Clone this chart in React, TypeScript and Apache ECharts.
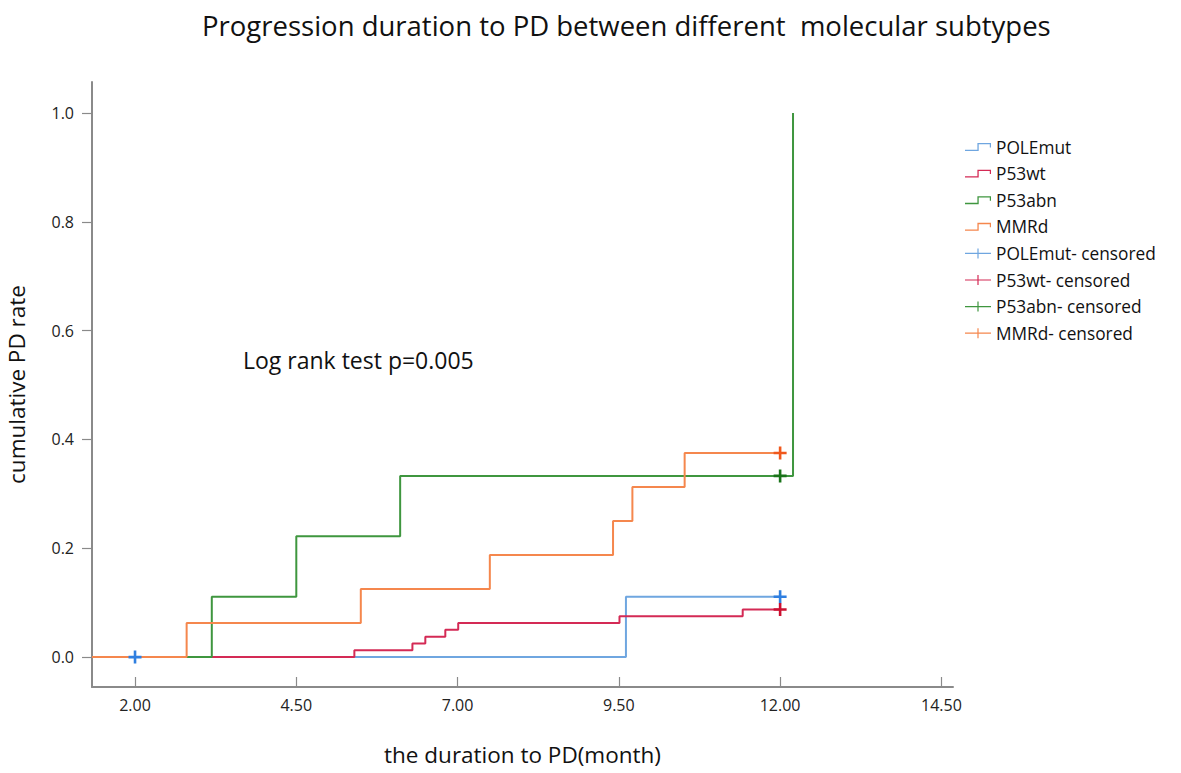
import React, { useEffect, useRef } from "react";
import * as echarts from "echarts";

const X_MIN = 1.333;
const X_MAX = 14.68;
const Y_MIN = -0.055;
const Y_MAX = 1.057;
const xTicks = [2.0, 4.5, 7.0, 9.5, 12.0, 14.5];
const yTicks = [0.0, 0.2, 0.4, 0.6, 0.8, 1.0];

const groups = ["POLEmut", "P53wt", "P53abn", "MMRd"];
const lineColors = ["#6fa6e0", "#d42a55", "#3f963f", "#f5874d"];
const censorColors = ["#2f7fe0", "#cc1030", "#1a741a", "#f0581c"];

// [time, cumulative PD rate] – step points
const polemutSteps = [
  [X_MIN, 0],
  [9.61, 0.111],
  [12.0, 0.111],
];
const p53wtSteps = [
  [X_MIN, 0],
  [5.4, 0.0125],
  [6.3, 0.025],
  [6.5, 0.0375],
  [6.81, 0.05],
  [7.01, 0.0625],
  [9.51, 0.075],
  [11.42, 0.0875],
  [12.0, 0.0875],
];
const p53abnSteps = [
  [X_MIN, 0],
  [3.19, 0.111],
  [4.5, 0.222],
  [6.11, 0.333],
  [12.2, 1.0],
];
const mmrdSteps = [
  [X_MIN, 0],
  [2.8, 0.0625],
  [5.5, 0.125],
  [7.5, 0.1875],
  [9.41, 0.25],
  [9.71, 0.3125],
  [10.52, 0.375],
  [12.0, 0.375],
];

const polemutCensored = [
  [2.0, 0],
  [12.0, 0.111],
];
const p53wtCensored = [[12.0, 0.0875]];
const p53abnCensored = [[12.0, 0.333]];
const mmrdCensored = [[12.0, 0.375]];

const stepData = [polemutSteps, p53wtSteps, p53abnSteps, mmrdSteps];
const censorData = [polemutCensored, p53wtCensored, p53abnCensored, mmrdCensored];

const FONT = "'Open Sans', 'Noto Sans', sans-serif";
const PLUS = "path://M0,4.8 H12 V7.2 H0 Z M4.8,0 H7.2 V12 H4.8 Z";
const STEP_ICON =
  "path://M0,6.6 L12.4,6.6 L12.4,0 L26,0 L26,4.4 L24.8,4.4 L24.8,1.3 L13.7,1.3 L13.7,7.9 L0,7.9 Z";
const PLUS_ICON = "path://M0,4.4 H26 V5.6 H0 Z M12.4,0 H13.6 V10 H12.4 Z";

export default function App() {
  const ref = useRef<HTMLDivElement>(null);

  useEffect(() => {
    if (!ref.current) return;
    const chart = echarts.init(ref.current, undefined, { renderer: "svg" });

    const lineSeries = groups.map((g, i) => ({
      name: g,
      type: "line",
      step: "end",
      data: stepData[i],
      showSymbol: false,
      symbol: "none",
      color: lineColors[i],
      lineStyle: { width: 2, color: lineColors[i] },
      itemStyle: { color: lineColors[i] },
      z: 2 + i,
    }));
    const censorSeries = groups.map((g, i) => ({
      name: g + "- censored",
      type: "scatter",
      data: censorData[i],
      symbol: PLUS,
      symbolSize: 13,
      color: censorColors[i],
      itemStyle: { color: censorColors[i], opacity: 1 },
      z: 10,
    }));

    chart.setOption({
      animation: false,
      textStyle: { fontFamily: FONT },
      title: {
        text: "Progression duration to PD between different  molecular subtypes",
        left: 202,
        top: 11,
        padding: 0,
        textStyle: {
          fontFamily: FONT,
          fontSize: 27.5,
          fontWeight: "normal",
          color: "#111",
        },
      },
      legend: {
        orient: "vertical",
        left: 965,
        top: 137,
        padding: 0,
        itemWidth: 26,
        itemHeight: 10,
        itemGap: 6.6,
        textStyle: { fontFamily: FONT, fontSize: 17.3, color: "#111", lineHeight: 20 },
        data: [
          ...groups.map((g, i) => ({ name: g, icon: STEP_ICON, itemStyle: { color: lineColors[i] } })),
          ...groups.map((g, i) => ({ name: g + "- censored", icon: PLUS_ICON, itemStyle: { color: lineColors[i] } })),
        ],
        selectedMode: false,
      },
      grid: { left: 92, right: 228, top: 82, bottom: 86, containLabel: false, outerBoundsMode: "none" },
      xAxis: {
        type: "value",
        min: X_MIN,
        max: X_MAX,
        name: "the duration to PD(month)",
        nameLocation: "middle",
        nameGap: 56,
        nameTextStyle: { fontFamily: FONT, fontSize: 22.5, color: "#111" },
        axisLine: { show: true, onZero: false, lineStyle: { color: "#8a8a8a", width: 2 } },
        axisTick: { show: true, inside: true, length: 10, customValues: xTicks, lineStyle: { color: "#8a8a8a", width: 1.2 } },
        axisLabel: {
          customValues: xTicks,
          margin: 10,
          fontFamily: FONT,
          fontSize: 16,
          color: "#222",
          formatter: (v: number) => v.toFixed(2),
        },
        splitLine: { show: false },
      },
      yAxis: {
        type: "value",
        min: Y_MIN,
        max: Y_MAX,
        name: "cumulative PD rate",
        nameLocation: "middle",
        nameGap: 64,
        nameTextStyle: { fontFamily: FONT, fontSize: 22.5, color: "#111" },
        axisLine: { show: true, onZero: false, lineStyle: { color: "#8a8a8a", width: 2 } },
        axisTick: { show: true, inside: false, length: 10, customValues: yTicks, lineStyle: { color: "#8a8a8a", width: 1.2 } },
        axisLabel: {
          customValues: yTicks,
          margin: 18,
          fontFamily: FONT,
          fontSize: 16,
          color: "#222",
          formatter: (v: number) => v.toFixed(1),
        },
        splitLine: { show: false },
      },
      graphic: [
        {
          type: "text",
          left: 243,
          top: 348,
          style: {
            text: "Log rank test p=0.005",
            fontFamily: FONT,
            fontSize: 23,
            fill: "#111",
          },
        },
      ],
      series: [...lineSeries, ...censorSeries],
    });

    return () => chart.dispose();
  }, []);

  return (
    <div
      ref={ref}
      style={{ position: "fixed", left: 0, top: 0, width: 1181, height: 773, background: "#fff" }}
    />
  );
}
